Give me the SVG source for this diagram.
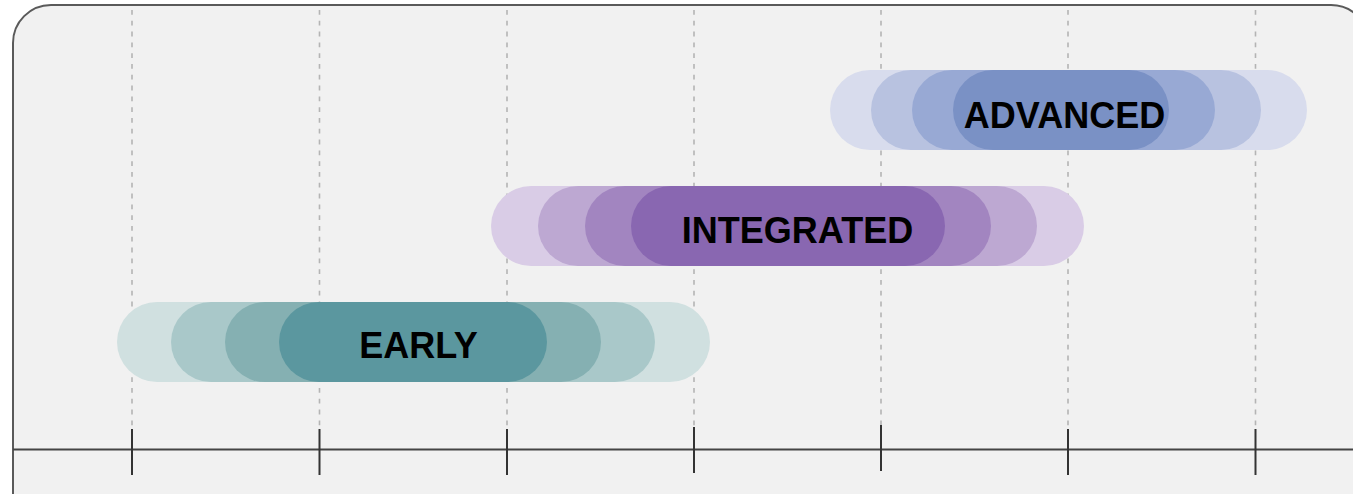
<svg xmlns="http://www.w3.org/2000/svg" width="1353" height="494" viewBox="0 0 1353 494">
<style>
.grid{stroke:#b4b4b4;stroke-width:1.6;stroke-dasharray:4.8,6}
.tick{stroke:#333;stroke-width:2}
.axis{stroke:#444;stroke-width:2}
.lbl{font-family:"Liberation Sans",Arial,sans-serif;font-weight:bold;font-size:36px;fill:#000;text-anchor:middle}
</style>
<rect id="frame" x="13" y="5" width="1356" height="600" rx="38" ry="38" fill="#f1f1f1" stroke="#5a5a5a" stroke-width="2"/>
<g id="gridlines">
<line class="grid" x1="132" y1="10" x2="132" y2="429"/>
<line class="grid" x1="319.5" y1="10" x2="319.5" y2="429"/>
<line class="grid" x1="507" y1="10" x2="507" y2="429"/>
<line class="grid" x1="694" y1="10" x2="694" y2="427"/>
<line class="grid" x1="881" y1="10" x2="881" y2="425"/>
<line class="grid" x1="1068" y1="10" x2="1068" y2="429"/>
<line class="grid" x1="1255.5" y1="10" x2="1255.5" y2="429"/>
</g>
<g id="axis">
<line class="axis" x1="13" y1="449.5" x2="1353" y2="449.5"/>
<line class="tick" x1="132" y1="429" x2="132" y2="475"/>
<line class="tick" x1="319.5" y1="429" x2="319.5" y2="475"/>
<line class="tick" x1="507" y1="429" x2="507" y2="475"/>
<line class="tick" x1="694" y1="427" x2="694" y2="473"/>
<line class="tick" x1="881" y1="425" x2="881" y2="471"/>
<line class="tick" x1="1068" y1="429" x2="1068" y2="475"/>
<line class="tick" x1="1255.5" y1="429" x2="1255.5" y2="475"/>
</g>
<g id="early">
<rect x="117" y="302" width="593" height="80" rx="40" fill="#d0e0e0"/>
<rect x="171" y="302" width="484" height="80" rx="40" fill="#a9c8c9"/>
<rect x="225" y="302" width="376" height="80" rx="40" fill="#85b0b2"/>
<rect x="279" y="302" width="268" height="80" rx="40" fill="#5b979f"/>
<text class="lbl" x="418.5" y="357.5">EARLY</text>
</g>
<g id="integrated">
<rect x="491" y="186" width="593" height="80" rx="40" fill="#d9cce6"/>
<rect x="538" y="186" width="499" height="80" rx="40" fill="#bda8d2"/>
<rect x="585" y="186" width="406" height="80" rx="40" fill="#a285c0"/>
<rect x="631" y="186" width="314" height="80" rx="40" fill="#8967b1"/>
<text class="lbl" x="797.5" y="242.5">INTEGRATED</text>
</g>
<g id="advanced">
<rect x="830" y="70" width="477" height="80" rx="40" fill="#d8dced"/>
<rect x="871" y="70" width="390" height="80" rx="40" fill="#b8c2e0"/>
<rect x="912" y="70" width="303" height="80" rx="40" fill="#98a9d4"/>
<rect x="953" y="70" width="216" height="80" rx="40" fill="#7a91c5"/>
<text class="lbl" x="1064.5" y="127.5">ADVANCED</text>
</g>
</svg>
